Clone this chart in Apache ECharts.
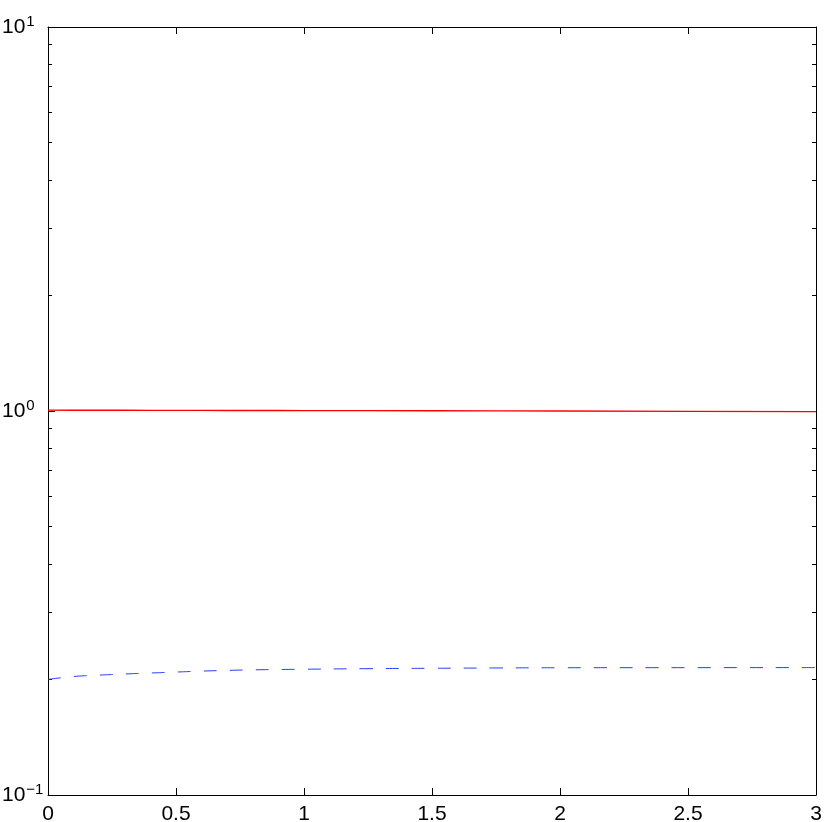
<!DOCTYPE html>
<html><head><meta charset="utf-8">
<script src="https://cdn.jsdelivr.net/npm/echarts@6/dist/echarts.min.js"></script>
<style>html,body{margin:0;padding:0;background:#fff}#c{width:830px;height:822px}</style>
</head><body><div id="c"></div>
<script>
// ---- data ----
var xValues    = [0, 0.1, 0.2, 0.3, 0.4, 0.5, 0.6, 0.7, 0.8, 0.9, 1.0, 1.25, 1.5, 1.75, 2.0, 2.5, 3.0];
var redValues  = [1.005, 1.0048, 1.0045, 1.0043, 1.004, 1.0038, 1.0035, 1.0033, 1.003, 1.0028, 1.0025, 1.002, 1.0012, 1.0005, 1.0, 0.998, 0.996];
var blueValues = [0.2000, 0.2035, 0.2052, 0.2066, 0.2078, 0.2090, 0.2102, 0.2111, 0.2118, 0.2122, 0.2126, 0.2133, 0.2138, 0.2142, 0.2145, 0.2146, 0.2147];
var xTicks     = [0, 0.5, 1, 1.5, 2, 2.5, 3];
var yMajor     = [0.1, 1, 10];
var yMinor     = [0.2, 0.3, 0.4, 0.5, 0.6, 0.7, 0.8, 0.9, 2, 3, 4, 5, 6, 7, 8, 9];

function pairs(xs, ys) { return xs.map(function (x, i) { return [x, ys[i]]; }); }

var FONT = '"Liberation Sans", Arial, Helvetica, sans-serif';
var chart = echarts.init(document.getElementById('c'), null, { renderer: 'canvas' });

function yAxisDef(pos, major, show) {
  return {
    type: 'log', logBase: 10, min: 0.1, max: 10, position: pos,
    axisLine: { show: show, lineStyle: { color: '#000', width: 1 } },
    axisTick: { show: true, inside: true, length: major ? 7 : 4, customValues: major ? yMajor : yMinor,
                lineStyle: { color: '#000', width: 1 } },
    axisLabel: (major && pos === 'left') ? {
      show: true, customValues: yMajor, align: 'left', margin: 46,
      formatter: function (v) {
        var e = Math.round(Math.log10(v));
        return '{b|10}{s|' + (e < 0 ? '\u2212' + (-e) : e) + '}';
      },
      rich: {
        b: { fontSize: 21, fontFamily: FONT, color: '#000' },
        s: { fontSize: 15, fontFamily: FONT, color: '#000', padding: [0, 0, 11, 1] }
      }
    } : { show: false },
    splitLine: { show: false },
    minorTick: { show: false }
  };
}

chart.setOption({
  animation: false,
  backgroundColor: '#fff',
  grid: { left: 48, right: 14, top: 27, bottom: 27, containLabel: false, outerBoundsMode: 'none' },
  xAxis: [
    { type: 'value', min: 0, max: 3, interval: 0.5, position: 'bottom',
      axisLine: { show: true, onZero: false, lineStyle: { color: '#000', width: 1 } },
      axisTick: { show: true, inside: true, length: 7, lineStyle: { color: '#000' } },
      axisLabel: { show: true, margin: 9, fontSize: 21, fontFamily: FONT, color: '#000',
                   customValues: xTicks,
                   formatter: function (v) { return String(+v.toFixed(2)); } },
      splitLine: { show: false } },
    { type: 'value', min: 0, max: 3, interval: 0.5, position: 'top',
      axisLine: { show: true, onZero: false, lineStyle: { color: '#000', width: 1 } },
      axisTick: { show: true, inside: true, length: 7, lineStyle: { color: '#000' } },
      axisLabel: { show: false }, splitLine: { show: false } }
  ],
  yAxis: [
    yAxisDef('left', true, true),
    yAxisDef('left', false, false),
    yAxisDef('right', true, true),
    yAxisDef('right', false, false)
  ],
  series: [
    { type: 'line', xAxisIndex: 0, yAxisIndex: 0, data: pairs(xValues, redValues),
      showSymbol: false, smooth: false, lineStyle: { color: '#ff0000', width: 1.4 } },
    { type: 'line', xAxisIndex: 0, yAxisIndex: 0, data: pairs(xValues, blueValues),
      showSymbol: false, smooth: true, lineStyle: { color: '#2040ff', width: 1, type: [13, 13] } }
  ]
});
</script></body></html>
